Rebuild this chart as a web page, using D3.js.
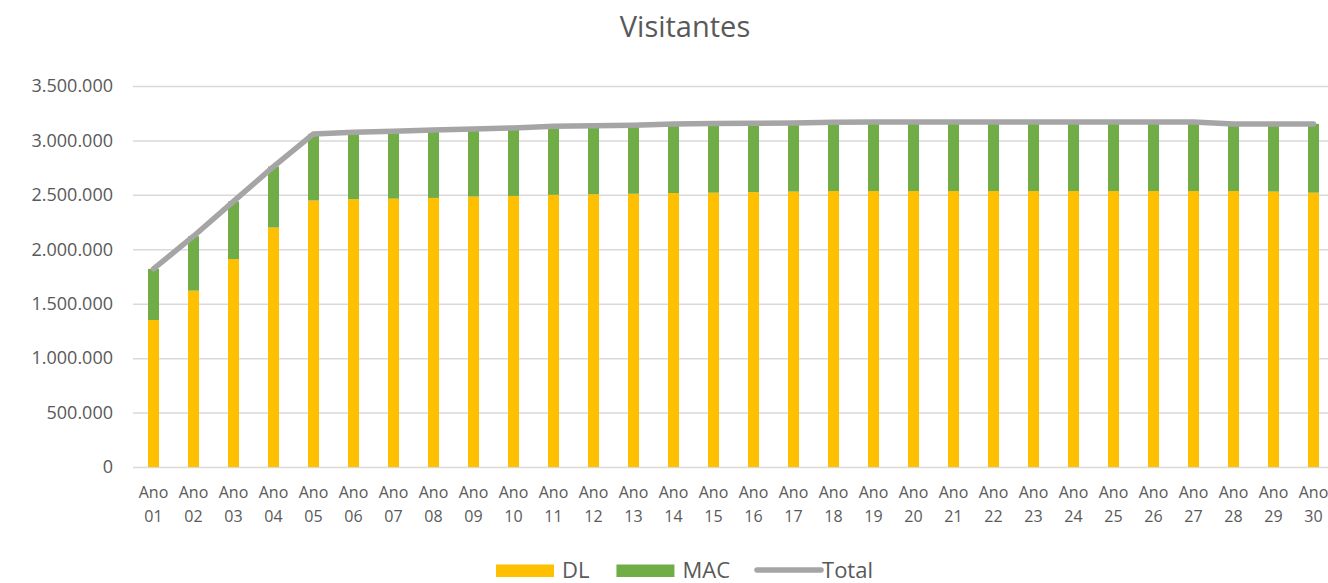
<!DOCTYPE html>
<html>
<head>
<meta charset="utf-8">
<script src="https://cdn.jsdelivr.net/npm/d3@7"></script>
<style>
  html, body { margin: 0; padding: 0; background: #fff; }
  svg { display: block; font-family: "Open Sans", "Noto Sans", sans-serif; }
</style>
</head>
<body>
<svg id="chart" width="1328" height="583"></svg>
<script>
const title = "Visitantes";
const categories = ["01","02","03","04","05","06","07","08","09","10","11","12","13","14","15","16","17","18","19","20","21","22","23","24","25","26","27","28","29","30"];
const catPrefix = "Ano";
const dl = [1350000,1620000,1910000,2200000,2448000,2460000,2465000,2472000,2484000,2490000,2500000,2506000,2510000,2517000,2520000,2525000,2530000,2535000,2535000,2535000,2535000,2535000,2535000,2535000,2535000,2535000,2535000,2535000,2530000,2520000];
const mac = [470000,500000,530000,560000,612000,615000,620000,623000,621000,625000,630000,629000,630000,633000,635000,633000,630000,632000,635000,635000,635000,635000,635000,635000,635000,635000,635000,617000,622000,632000];
const total = [1820000,2120000,2440000,2760000,3060000,3075000,3085000,3095000,3105000,3115000,3130000,3135000,3140000,3150000,3155000,3158000,3160000,3167000,3170000,3170000,3170000,3170000,3170000,3170000,3170000,3170000,3170000,3152000,3152000,3152000];
const yTicks = [0,500000,1000000,1500000,2000000,2500000,3000000,3500000];
const seriesNames = ["DL","MAC","Total"];
const colors = {DL:"#FFC000", MAC:"#70AD47", Total:"#A5A5A5"};

const svg = d3.select("#chart");
const textColor = "#595959";
const FONT = "'Open Sans', 'Noto Sans', sans-serif";

const x = d3.scaleBand().domain(categories).range([133.5, 1333.5]).paddingInner(0.725).paddingOuter(0.3625);
const y = d3.scaleLinear().domain([0, 3500000]).range([467, 86]);

const fmt = d3.formatLocale({decimal: ",", thousands: ".", grouping: [3], currency: ["", ""]}).format(",d");

// gridlines + y labels
const yAxis = d3.axisLeft(y).tickValues(yTicks).tickSize(-(1328 - 133)).tickFormat(fmt).tickPadding(20);
const gy = svg.append("g").attr("transform", "translate(133,0)").call(yAxis)
  .attr("font-family", FONT).attr("font-size", 18);
gy.select(".domain").remove();
gy.selectAll(".tick line").attr("stroke", "#D9D9D9").attr("stroke-width", 1.5);
gy.selectAll(".tick text").attr("fill", textColor);

// bars
const stacked = categories.map((c, i) => ({c, dl: dl[i], mac: mac[i]}));
svg.append("g").selectAll("rect").data(stacked).join("rect")
  .attr("x", d => x(d.c)).attr("width", x.bandwidth())
  .attr("y", d => y(d.dl)).attr("height", d => y(0) - y(d.dl))
  .attr("fill", colors.DL);
svg.append("g").selectAll("rect").data(stacked).join("rect")
  .attr("x", d => x(d.c)).attr("width", x.bandwidth())
  .attr("y", d => y(d.dl + d.mac)).attr("height", d => y(d.dl) - y(d.dl + d.mac))
  .attr("fill", colors.MAC);

// total line
const line = d3.line().x((d, i) => x(categories[i]) + x.bandwidth() / 2).y(d => y(d));
svg.append("path").datum(total).attr("d", line)
  .attr("fill", "none").attr("stroke", colors.Total).attr("stroke-width", 5.5)
  .attr("stroke-linejoin", "round").attr("stroke-linecap", "round");

// x axis labels
const xAxis = d3.axisBottom(x).tickSize(0).tickFormat("");
const gx = svg.append("g").attr("transform", "translate(0,467)").call(xAxis)
  .attr("font-family", FONT).attr("font-size", 16);
gx.select(".domain").remove();
gx.selectAll(".tick").each(function(d) {
  const t = d3.select(this).append("text").attr("fill", textColor).attr("text-anchor", "middle");
  t.append("tspan").attr("x", 0).attr("y", 31).text(catPrefix);
  t.append("tspan").attr("x", 0).attr("y", 55).text(d);
});

// title
svg.append("text").attr("x", 685).attr("y", 37).attr("text-anchor", "middle")
  .attr("font-family", FONT).attr("fill", textColor).attr("font-size", 29).text(title);

// legend
const lg = svg.append("g").attr("font-family", FONT);
let lx = 496;
seriesNames.forEach(name => {
  if (name === "Total") {
    lg.append("line").attr("x1", lx).attr("x2", lx + 64).attr("y1", 570).attr("y2", 570)
      .attr("stroke", colors.Total).attr("stroke-width", 5.5).attr("stroke-linecap", "round");
    lx += 65;
  } else {
    lg.append("rect").attr("x", lx).attr("y", 564.5).attr("width", 58).attr("height", 12.5).attr("fill", colors[name]);
    lx += 66;
  }
  const t = lg.append("text").attr("x", lx).attr("y", 578).attr("fill", textColor).attr("font-size", 22).text(name);
  lx += t.node().getComputedTextLength() + 27;
});
</script>
</body>
</html>
